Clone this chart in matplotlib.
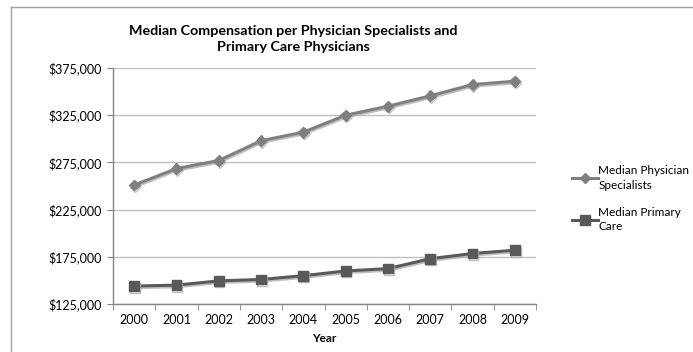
import matplotlib.pyplot as plt
import matplotlib.ticker as ticker
from matplotlib.lines import Line2D
import matplotlib.patheffects as pe

plt.rcParams['font.family'] = ['Lato', 'DejaVu Sans']

years = ['2000', '2001', '2002', '2003', '2004', '2005', '2006', '2007', '2008', '2009']
specialists = [251000, 268500, 277000, 298000, 307000, 325000, 334500, 345500, 357500, 361000]
primary_care = [144000, 145000, 149500, 151000, 155000, 160000, 162500, 173000, 178500, 182000]
y_ticks = [125000, 175000, 225000, 275000, 325000, 375000]


def money(value, pos):
    return f'${value:,.0f}'


fig = plt.figure(figsize=(6.93, 3.52), dpi=100)
ax = fig.add_axes([113 / 693, 1 - 304 / 352, (536 - 113) / 693, (304 - 68) / 352])

x = list(range(len(years)))
shadow = [pe.SimpleLineShadow(offset=(0.6, -1.2), shadow_color='#b0b0b0', alpha=0.8), pe.Normal()]
ax.plot(x, specialists, color='#7f7f7f', linewidth=2.2, marker='D', markersize=5.5,
        markerfacecolor='#7f7f7f', markeredgecolor='#7f7f7f', path_effects=shadow,
        label='Median Physician\nSpecialists', zorder=3)
ax.plot(x, primary_care, color='#595959', linewidth=2.2, marker='s', markersize=7,
        markerfacecolor='#595959', markeredgecolor='#595959', path_effects=shadow,
        label='Median Primary\nCare', zorder=3)

ax.set_xlim(-0.5, len(years) - 0.5)
ax.set_ylim(y_ticks[0], y_ticks[-1])
ax.set_yticks(y_ticks)
ax.yaxis.set_major_formatter(ticker.FuncFormatter(money))
ax.set_xticks(x)
ax.set_xticklabels(years)
ax.xaxis.set_minor_locator(ticker.FixedLocator([i - 0.5 for i in range(len(years) + 1)]))
ax.tick_params(axis='x', which='major', length=0, pad=7, labelsize=9, colors='black')
ax.tick_params(axis='x', which='minor', length=4, color='#868686', direction='out')
ax.tick_params(axis='y', length=4, color='#868686', labelsize=9, pad=4)

ax.grid(axis='y', color='#bfbfbf', linewidth=1)
ax.set_axisbelow(True)
for side in ['top', 'right']:
    ax.spines[side].set_visible(False)
for side in ['left', 'bottom']:
    ax.spines[side].set_color('#868686')
    ax.spines[side].set_linewidth(1)

ax.set_xlabel('Year', fontsize=8.5, fontweight='bold', labelpad=5)

fig.text(293 / 693, 1 - 39 / 352, 'Median Compensation per Physician Specialists and\nPrimary Care Physicians',
         ha='center', va='center', fontsize=10.3, fontweight='bold', linespacing=1.4)

handles = [
    Line2D([], [], color='#7f7f7f', linewidth=2.2, marker='D', markersize=5),
    Line2D([], [], color='#595959', linewidth=2.2, marker='s', markersize=7),
]
leg = fig.legend(handles, ['Median Physician\nSpecialists', 'Median Primary\nCare'],
                 loc='upper left', bbox_to_anchor=(563 / 693, 1 - 156 / 352), frameon=False,
                 fontsize=8.5, handlelength=2.2, handletextpad=0.0, labelspacing=1.4,
                 borderpad=0.3)
for t in leg.get_texts():
    t.set_linespacing(1.35)

# chart area border (top and left edges)
fig.add_artist(Line2D([11 / 693, 1], [1 - 7 / 352, 1 - 7 / 352], color='#a0a0a0', linewidth=1))
fig.add_artist(Line2D([11 / 693, 11 / 693], [0, 1 - 7 / 352], color='#a0a0a0', linewidth=1))

fig.savefig('out.png', dpi=100)
